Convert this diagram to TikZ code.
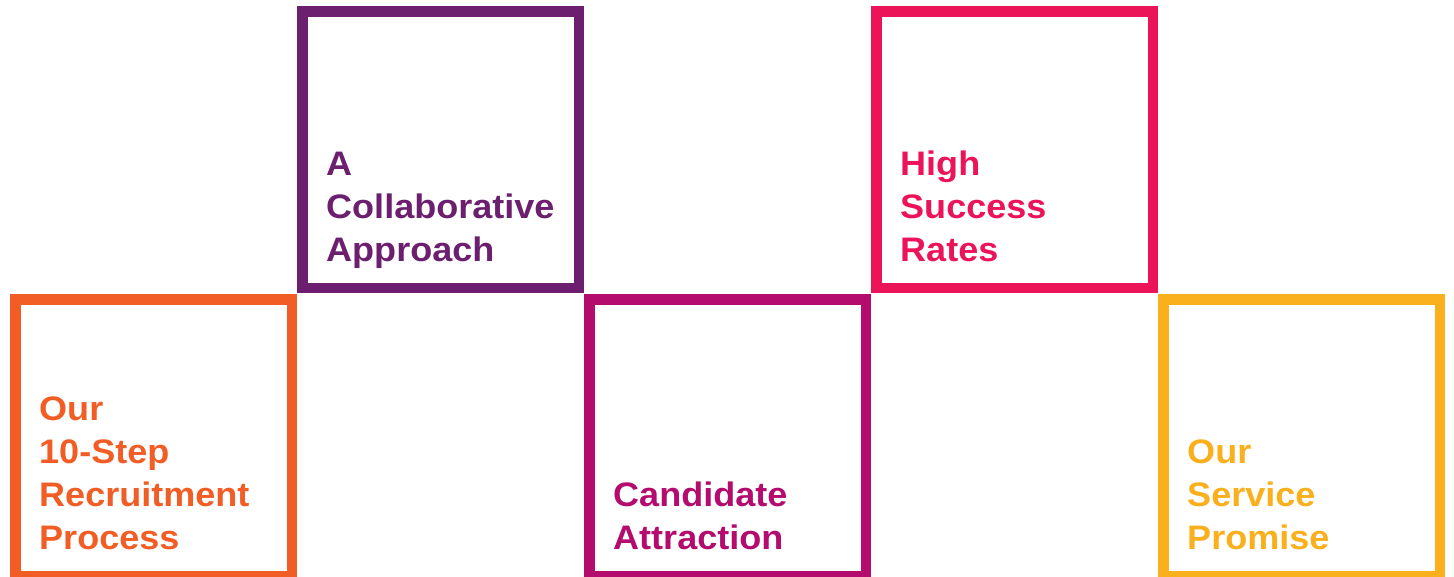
\documentclass[tikz,border=0pt]{standalone}
\usepackage{fontspec}
\setmainfont{Liberation Sans}[FakeStretch=1.06]
\usetikzlibrary{calc}
\definecolor{cOrange}{HTML}{F15D24}
\definecolor{cPurple}{HTML}{6C1F6E}
\definecolor{cMagenta}{HTML}{B30B6E}
\definecolor{cPink}{HTML}{EC1459}
\definecolor{cYellow}{HTML}{FAAF1D}
\tikzset{
  tile/.style={draw=#1, line width=10.5pt, minimum size=276.5pt, inner sep=0pt, outer sep=0pt},
  caption/.style={text=#1, anchor=base west, align=left, inner sep=0pt,
    font=\fontsize{34pt}{43pt}\selectfont\bfseries},
}
\begin{document}
\begin{tikzpicture}[x=1pt,y=-1pt]
\useasboundingbox (0,0) rectangle (1454,576);
\clip (0,0) rectangle (1454,576);
\node[tile=cOrange]  (b1) at (153.5,437.5) {};
\node[tile=cPurple]  (b2) at (440.5,149.5) {};
\node[tile=cMagenta] (b3) at (727.5,437.5) {};
\node[tile=cPink]    (b4) at (1014.5,149.5) {};
\node[tile=cYellow]  (b5) at (1301.5,437.5) {};
\node[caption=cOrange]  (t1) at ($(b1.center)+(-114.5,111.5)$) {Our\\10-Step\\Recruitment\\Process};
\node[caption=cPurple]  (t2) at ($(b2.center)+(-114.5,111.5)$) {A\\Collaborative\\Approach};
\node[caption=cMagenta] (t3) at ($(b3.center)+(-114.5,111.5)$) {Candidate\\Attraction};
\node[caption=cPink]    (t4) at ($(b4.center)+(-114.5,111.5)$) {High\\Success\\Rates};
\node[caption=cYellow]  (t5) at ($(b5.center)+(-114.5,111.5)$) {Our\\Service\\Promise};
\end{tikzpicture}
\end{document}
